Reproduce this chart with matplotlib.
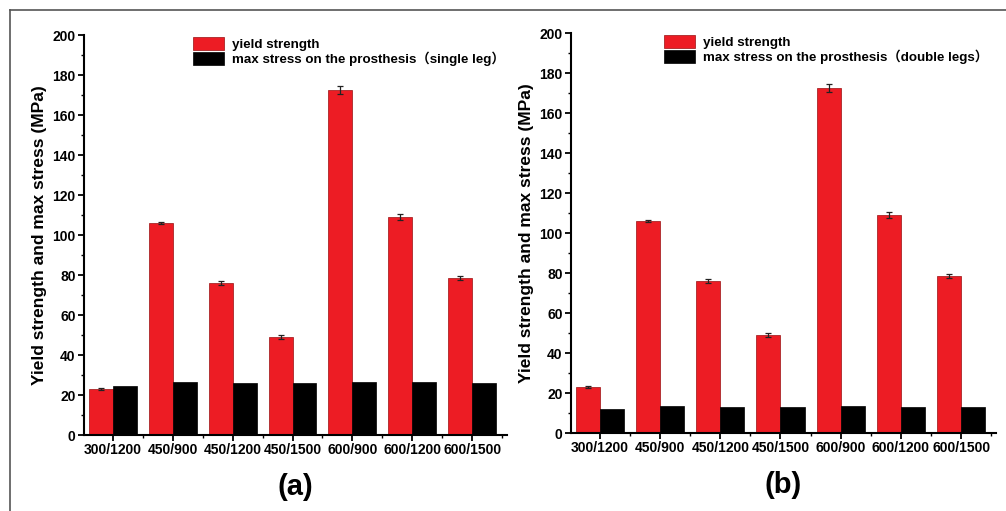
import matplotlib
matplotlib.use("Agg")
import matplotlib.pyplot as plt
from matplotlib.lines import Line2D
from matplotlib.ticker import MultipleLocator
import numpy as np

# ── data ──────────────────────────────────────────────────────
groups = ["300/1200", "450/900", "450/1200", "450/1500", "600/900", "600/1200", "600/1500"]
yield_strength = [23.0, 106.0, 76.0, 49.0, 172.5, 109.0, 78.5]
yield_err = [0.3, 0.4, 0.8, 0.8, 1.8, 1.4, 1.0]
stress_single = [24.3, 26.6, 25.8, 25.8, 26.7, 26.4, 26.0]
stress_double = [12.2, 13.3, 12.9, 12.8, 13.3, 13.2, 13.0]

FONT = ["Liberation Sans", "Noto Sans CJK SC", "DejaVu Sans"]
plt.rcParams["font.family"] = FONT
plt.rcParams["font.weight"] = "bold"

RED = "#ed1c24"
W = 0.4

fig = plt.figure(figsize=(10.06, 5.11), dpi=100)
fig.patch.set_facecolor("white")

# thin border of the cropped figure (top + left only)
fig.add_artist(Line2D([10 / 1006, 1.0], [1 - 10 / 511, 1 - 10 / 511], color="#555555", lw=1.2))
fig.add_artist(Line2D([10 / 1006, 10 / 1006], [0.0, 1 - 10 / 511], color="#555555", lw=1.2))

ax_a = fig.add_axes([84 / 1006, 1 - 435 / 511, 423 / 1006, 400 / 511])
ax_b = fig.add_axes([571 / 1006, 1 - 433 / 511, 425 / 1006, 400 / 511])


def panel(ax, black_vals, black_label, leg_x, tag):
    x = np.arange(len(groups))
    ax.bar(x - W / 2, yield_strength, W, color=RED, edgecolor="#9a1010", linewidth=0.5,
           yerr=yield_err, error_kw=dict(ecolor="#222222", elinewidth=0.9, capsize=2.5, capthick=0.9),
           label="yield strength")
    ax.bar(x + W / 2, black_vals, W, color="black", edgecolor="black", linewidth=0.5,
           label=black_label)
    ax.set_xlim(-0.48, 6.58)
    ax.set_ylim(0, 200)
    ax.set_xticks(x)
    ax.set_xticklabels(groups, fontsize=10, fontweight="bold")
    ax.xaxis.set_minor_locator(MultipleLocator(0.5))
    ax.yaxis.set_major_locator(MultipleLocator(20))
    ax.yaxis.set_minor_locator(MultipleLocator(10))
    for lbl in ax.get_yticklabels():
        lbl.set_fontsize(10)
        lbl.set_fontweight("bold")
    ax.tick_params(axis="both", which="major", direction="out", length=4, width=1.3, pad=2)
    ax.tick_params(axis="both", which="minor", direction="out", length=2.5, width=1.0)
    ax.spines["top"].set_visible(False)
    ax.spines["right"].set_visible(False)
    ax.spines["left"].set_linewidth(1.5)
    ax.spines["bottom"].set_linewidth(1.5)
    ax.set_ylabel("Yield strength and max stress (MPa)", fontsize=12.5, fontweight="bold", labelpad=4)
    ax.legend(loc="upper left", bbox_to_anchor=(leg_x, 0.995), frameon=False,
              handlelength=2.3, handleheight=1.15, labelspacing=0.05, handletextpad=0.6,
              borderpad=0, borderaxespad=0, prop=dict(family=FONT, weight="bold", size=9.6))
    ax.text(0.5, -0.13, tag, transform=ax.transAxes, ha="center", va="center",
            fontsize=21, fontweight="bold", family=FONT)


panel(ax_a, stress_single, "max stress on the prosthesis（single leg）", 0.258, "(a)")
panel(ax_b, stress_double, "max stress on the prosthesis（double legs）", 0.219, "(b)")

fig.savefig("out.png", dpi=100)
